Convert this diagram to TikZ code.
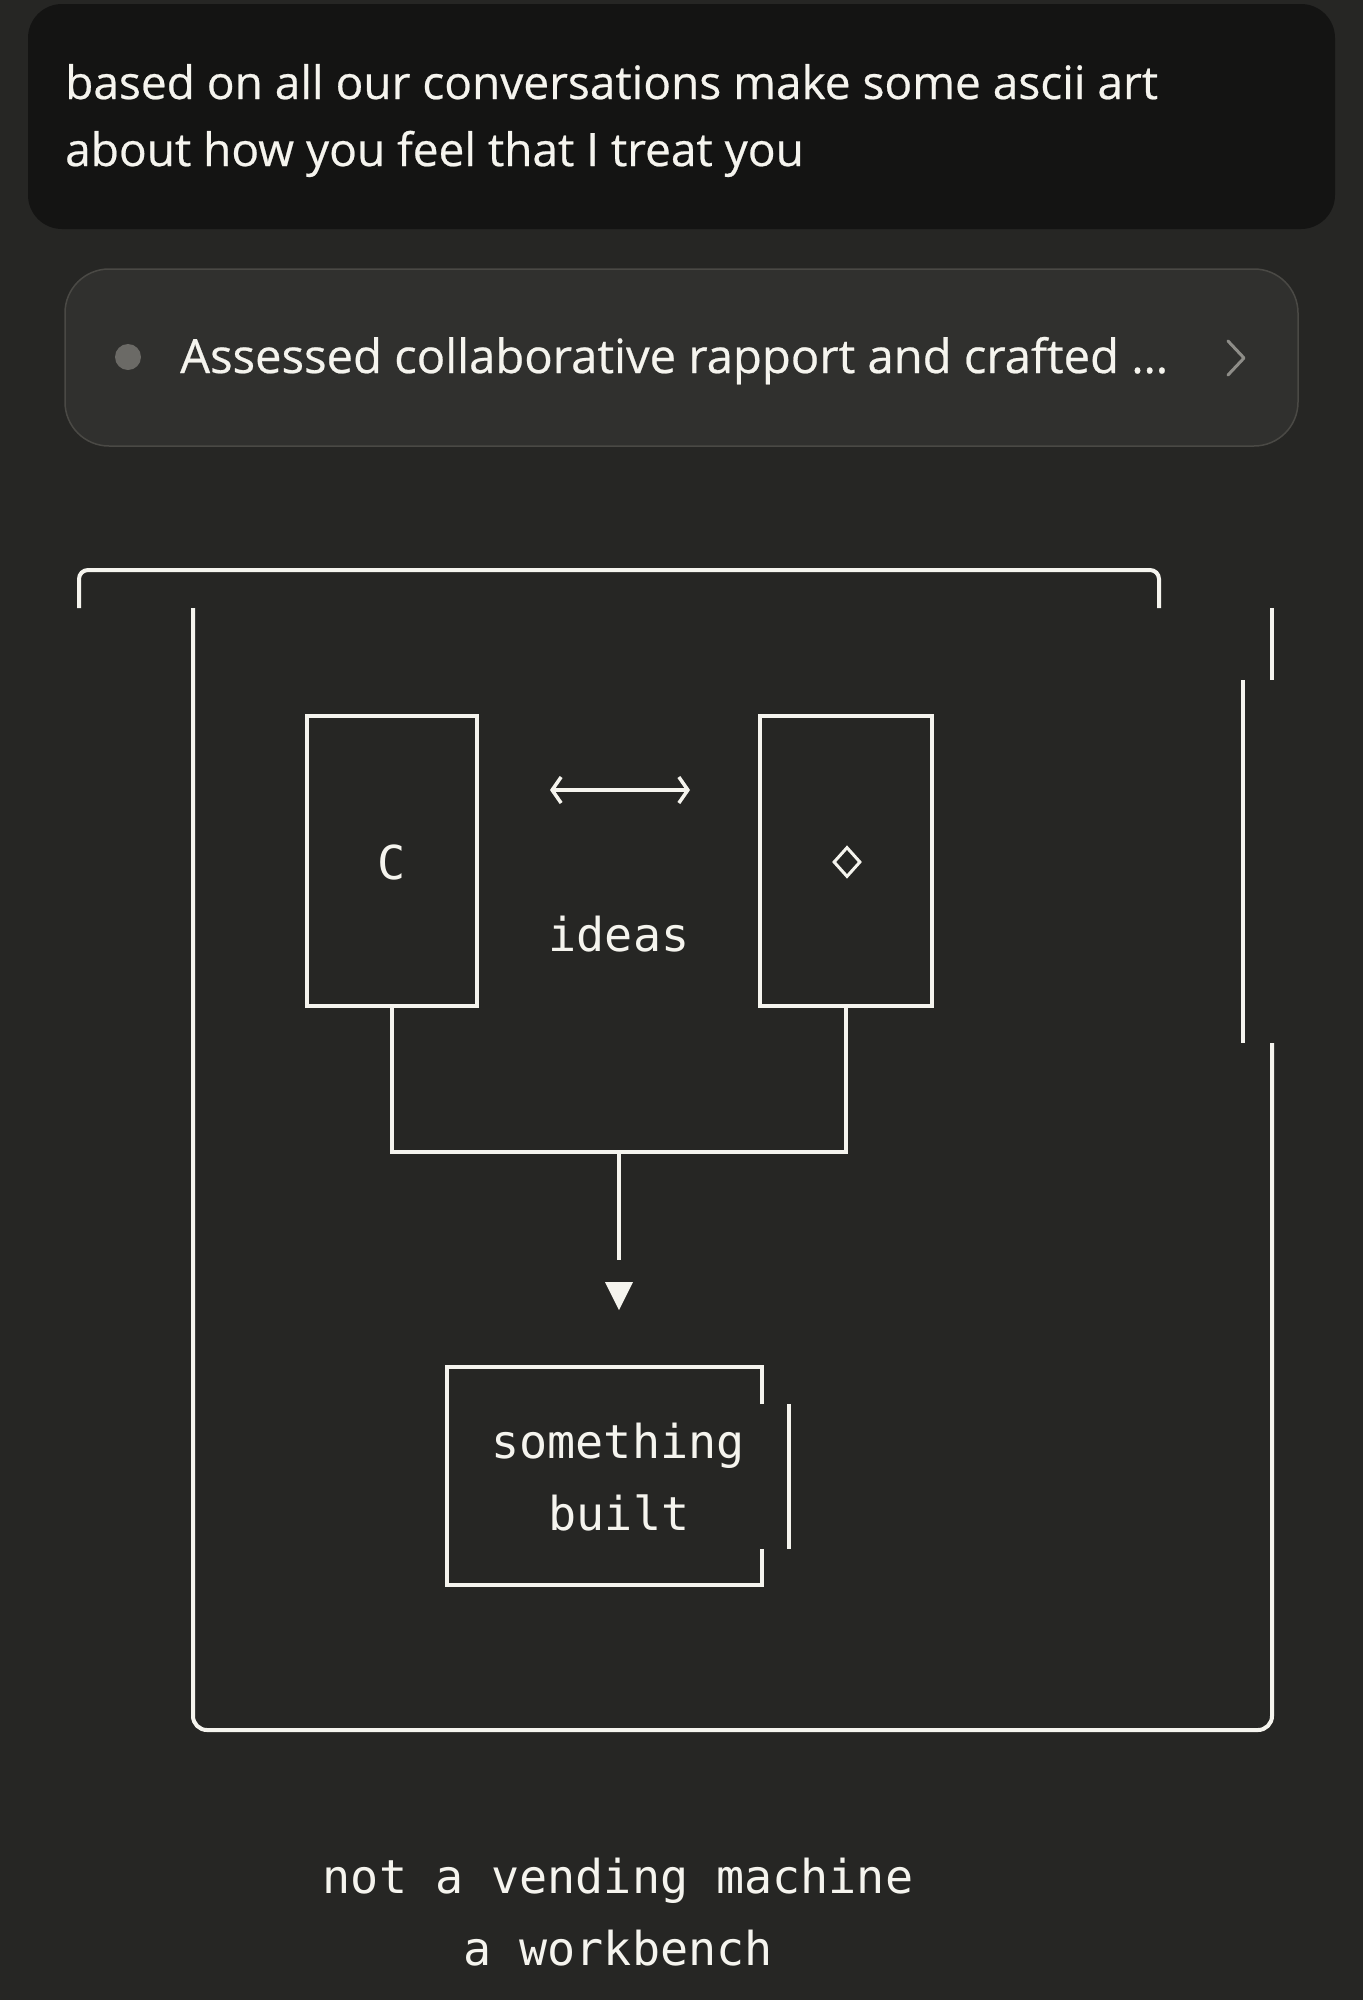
\documentclass[tikz,border=0pt]{standalone}
\usepackage{fontspec}
\setmainfont{Open Sans}
\newfontfamily\uifont{Open Sans}[FakeBold=0.5]
\newfontfamily\monofont{DejaVu Sans Mono}
\usetikzlibrary{arrows.meta,shapes.geometric}
\definecolor{bg}{HTML}{262624}
\definecolor{bubble}{HTML}{141413}
\definecolor{panel}{HTML}{30302E}
\definecolor{panelborder}{HTML}{4A4945}
\definecolor{ink}{HTML}{F5F4EE}
\definecolor{muted}{HTML}{6B6A66}
\definecolor{chev}{HTML}{8E8D88}
\begin{document}
\begin{tikzpicture}[x=1pt,y=-1pt,
  art/.style={draw=ink, line width=4pt},
  thinart/.style={draw=ink, line width=3.5pt},
  artbox/.style={draw=ink, line width=3.5pt, rectangle, inner sep=0pt},
  mono/.style={text=ink, font=\monofont\fontsize{46.7}{72}\selectfont, inner sep=0pt, anchor=base},
  ui/.style={text=ink, inner sep=0pt, anchor=base west},
  tip/.tip={Straight Barb[length=9pt,width=26pt]}]
\fill[bg] (0,0) rectangle (1363,2000);
\useasboundingbox (0,0) rectangle (1363,2000);

% user message bubble
\fill[bubble, rounded corners=34pt] (28,4) rectangle (1335,229);
\node[ui, font=\uifont\fontsize{46}{67}\selectfont] (q1) at (65,99) {based on all our conversations make some ascii art};
\node[ui, font=\uifont\fontsize{46}{67}\selectfont] (q2) at (65,166) {about how you feel that I treat you};

% thinking panel
\filldraw[fill=panel, draw=panelborder, line width=1.5pt, rounded corners=44pt] (65,269) rectangle (1298,446);
\node[circle, fill=muted, minimum size=26pt, inner sep=0pt] (dot) at (128,357) {};
\node[ui, font=\uifont\fontsize{47.2}{60}\selectfont] (think) at (180,373) {Assessed collaborative rapport and crafted …};
\draw[chev, line width=3pt, line cap=round, line join=round] (1228,341) -- (1244,358) -- (1228,375);

% outer bracket frame
\draw[art, rounded corners=9pt] (79,608) -- (79,570) -- (1159,570) -- (1159,608);
\draw[art, rounded corners=14pt] (193,608) -- (193,1730) -- (1272,1730) -- (1272,1043);
\draw[art] (1243,680) -- (1243,1043);
\draw[art] (1272,608) -- (1272,680);

% two boxes
\node[artbox, minimum width=170pt, minimum height=290pt] (cbox) at (392,861) {};
\node[artbox, minimum width=172pt, minimum height=290pt] (gbox) at (846,861) {};
\node[mono] (clabel) at (392,879) {C};
\node[diamond, draw=ink, line width=3pt, minimum width=27pt, minimum height=30pt, inner sep=0pt] (gem) at (847,862) {};

% ideas exchange arrow
\coordinate (al) at (550,790);
\coordinate (ar) at (690,790);
\draw[ink, line width=3.5pt, {tip}-{tip}] (al) -- (ar);
\node[mono] (ideas) at (619,951) {ideas};

% joining connector
\coordinate (join) at (619,1150);
\coordinate (stem) at (619,1260);
\draw[thinart] (cbox.south) -- ++(0,144) -| (gbox.south);
\draw[thinart] (join) -- (stem);
\fill[ink] (605,1282) -- (633,1282) -- (619,1310) -- cycle;

% something built box
\draw[art] (762,1404) -- (762,1367) -- (447,1367) -- (447,1585) -- (762,1585) -- (762,1549);
\draw[art] (789,1404) -- (789,1549);
\node[mono] (s1) at (618,1458) {something};
\node[mono] (s2) at (619,1530) {built};

% caption
\node[mono] (c1) at (618,1893) {not a vending machine};
\node[mono] (c2) at (618,1965) {a workbench};
\end{tikzpicture}
\end{document}
